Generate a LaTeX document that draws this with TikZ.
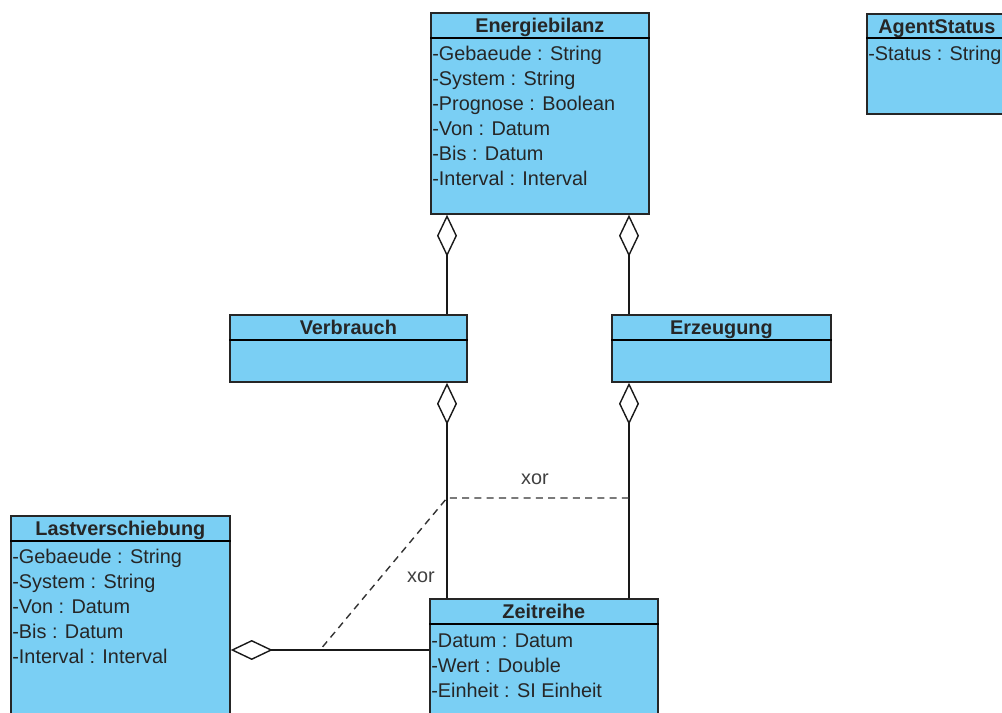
\documentclass[tikz,border=0pt]{standalone}
\usepackage{fontspec}
\setmainfont{Liberation Sans}
\usetikzlibrary{arrows.meta}
\definecolor{umlblau}{RGB}{122,207,244}

\begin{document}
\begin{tikzpicture}[x=0.02cm,y=-0.02cm,
  klasse/.style={draw=black!85,fill=umlblau,line width=1pt,anchor=north west,inner sep=0pt},
  kopf/.style={font=\fontsize{11.3}{13}\selectfont\bfseries,text=black!85,anchor=base,inner sep=0pt},
  attr/.style={font=\fontsize{11.3}{13}\selectfont,text=black!85,anchor=base west,inner sep=0pt},
  aggr/.style={line width=0.8pt,draw=black!90,-{Diamond[open,length=0.84cm,width=0.4cm]}},
  xorlinie/.style={line width=0.8pt,draw=black!80,dash pattern=on 4pt off 3pt},
  xortext/.style={font=\fontsize{11.3}{13}\selectfont,text=black!75,anchor=base,inner sep=0pt}]
\useasboundingbox (0,0) rectangle (1002,713);
\clip (0,0) rectangle (1002,713);

\node[klasse,minimum width=4.36cm,minimum height=4.02cm] (ebil) at (430,12) {};
\draw[line width=1pt] ([yshift=-0.52cm]ebil.north west) -- ([yshift=-0.52cm]ebil.north east);
\node[kopf] (ebil-t) at ([yshift=-0.42cm]ebil.north) {Energiebilanz};
\foreach \txt [count=\i] in {-Gebaeude : String,-System : String,-Prognose : Boolean,-Von : Datum,-Bis : Datum,-Interval : Interval}
  \node[attr] (ebil-\i) at (432,36+25*\i) {\txt};

\node[klasse,minimum width=2.8cm,minimum height=2cm] (agent) at (866,13) {};
\draw[line width=1pt] ([yshift=-0.5cm]agent.north west) -- ([yshift=-0.5cm]agent.north east);
\node[kopf] (agent-t) at ([yshift=-0.42cm]agent.north) {AgentStatus};
\node[attr] (agent-1) at (868,61) {-Status : String};

\node[klasse,minimum width=4.74cm,minimum height=1.34cm] (verb) at (229,314) {};
\draw[line width=1pt] ([yshift=-0.52cm]verb.north west) -- ([yshift=-0.52cm]verb.north east);
\node[kopf] (verb-t) at ([yshift=-0.42cm]verb.north) {Verbrauch};

\node[klasse,minimum width=4.38cm,minimum height=1.34cm] (erz) at (611,314) {};
\draw[line width=1pt] ([yshift=-0.52cm]erz.north west) -- ([yshift=-0.52cm]erz.north east);
\node[kopf] (erz-t) at ([yshift=-0.42cm]erz.north) {Erzeugung};

\node[klasse,minimum width=4.56cm,minimum height=2.6cm] (zeit) at (429,598) {};
\draw[line width=1pt] ([yshift=-0.52cm]zeit.north west) -- ([yshift=-0.52cm]zeit.north east);
\node[kopf] (zeit-t) at ([yshift=-0.42cm]zeit.north) {Zeitreihe};
\foreach \txt [count=\i] in {-Datum : Datum,-Wert : Double,-Einheit : SI Einheit}
  \node[attr] (zeit-\i) at (431,622+25*\i) {\txt};

\node[klasse,minimum width=4.38cm,minimum height=4.2cm] (last) at (10,515) {};
\draw[line width=1pt] ([yshift=-0.52cm]last.north west) -- ([yshift=-0.52cm]last.north east);
\node[kopf] (last-t) at ([yshift=-0.42cm]last.north) {Lastverschiebung};
\foreach \txt [count=\i] in {-Gebaeude : String,-System : String,-Von : Datum,-Bis : Datum,-Interval : Interval}
  \node[attr] (last-\i) at (12,538+25*\i) {\txt};

\coordinate (links) at (447,0);
\coordinate (rechts) at (629,0);
\coordinate (mitte) at (0,650);
\draw[aggr] (verb.north -| links) -- (ebil.south -| links);
\draw[aggr] (erz.north -| rechts) -- (ebil.south -| rechts);
\draw[aggr] (zeit.north -| links) -- (verb.south -| links);
\draw[aggr] (zeit.north -| rechts) -- (erz.south -| rechts);
\draw[aggr] (zeit.west |- mitte) -- (last.east |- mitte);

\coordinate (xor-l) at (447,498);
\coordinate (xor-r) at (629,498);
\coordinate (xor-u) at (320,650);
\draw[xorlinie] (xor-r) -- (xor-l) -- (xor-u);
\node[xortext] (xor-1) at (535,484) {xor};
\node[xortext] (xor-2) at (421,582) {xor};
\end{tikzpicture}
\end{document}
